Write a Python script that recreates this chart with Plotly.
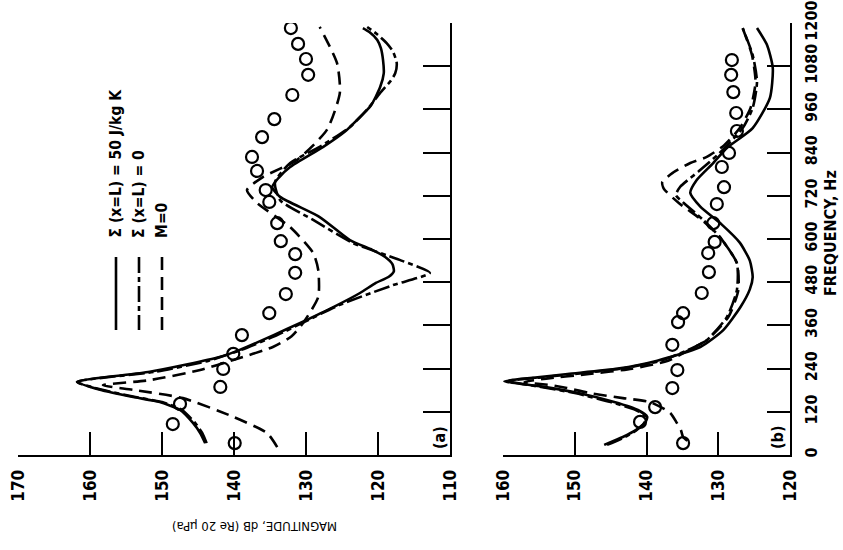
import plotly.graph_objects as go

W, H = 843, 550

# ---------------- data ----------------
# Panel (a)
a_meas_freq = [33, 86, 142, 189, 239, 281, 333, 394, 447, 506, 558, 594, 644, 703, 736, 789, 828, 883, 933, 1000, 1056, 1100, 1142, 1186]
a_meas_mag = [139.9, 148.5, 147.5, 141.9, 141.5, 140.1, 138.9, 135.1, 132.8, 131.5, 131.5, 133.5, 134.0, 135.1, 135.6, 136.8, 137.5, 136.1, 134.4, 131.9, 129.7, 130.0, 131.1, 132.1]

a_s50_freq = [33, 61, 89, 125, 147, 161, 181, 203, 231, 272, 292, 333, 367, 411, 450, 478, 495, 510, 530, 550, 570, 597, 661, 717, 744, 770, 800, 856, 900, 931, 970, 1022, 1060, 1097, 1130, 1153, 1175, 1186]
a_s50_mag = [144.0, 144.7, 145.7, 147.5, 150.3, 154.0, 158.6, 161.8, 151.7, 142.0, 139.2, 134.5, 130.8, 126.2, 122.5, 120.3, 118.5, 117.8, 118.0, 119.0, 120.8, 123.9, 128.1, 133.6, 134.7, 133.8, 132.2, 127.6, 124.5, 122.9, 121.0, 119.7, 119.2, 119.3, 119.6, 120.1, 121.2, 122.1]

a_s0_freq = [33, 61, 89, 125, 147, 161, 181, 203, 231, 262, 292, 333, 367, 417, 472, 506, 542, 589, 653, 708, 758, 811, 856, 911, 960, 1006, 1040, 1061, 1089, 1120, 1144, 1170, 1189]
a_s0_mag = [143.8, 144.4, 145.4, 147.2, 150.0, 153.7, 158.3, 161.8, 151.0, 143.5, 139.0, 134.0, 130.5, 125.3, 117.9, 112.8, 117.0, 123.5, 129.0, 133.6, 134.3, 132.2, 128.1, 123.9, 121.5, 119.7, 118.2, 117.6, 117.4, 117.9, 118.8, 120.2, 121.5]

a_m0_freq = [22, 61, 106, 158, 181, 194, 208, 236, 264, 300, 330, 367, 439, 514, 561, 633, 700, 736, 772, 819, 903, 1006, 1089, 1189]
a_m0_mag = [134.0, 135.4, 140.1, 147.1, 154.0, 158.2, 151.7, 144.7, 140.1, 134.6, 132.0, 130.4, 128.3, 128.3, 129.0, 132.2, 136.8, 138.2, 136.0, 131.3, 127.1, 125.3, 125.7, 128.1]

# Panel (b)
b_meas_freq = [33, 92, 133, 186, 236, 306, 369, 394, 450, 508, 561, 592, 644, 697, 744, 800, 839, 900, 950, 1008, 1056, 1097]
b_meas_mag = [134.9, 140.9, 138.8, 136.4, 135.7, 136.4, 135.6, 134.9, 132.3, 131.3, 131.4, 130.5, 130.7, 130.2, 129.2, 129.5, 128.5, 127.4, 127.5, 127.9, 128.2, 128.1]

b_s50_freq = [28, 50, 69, 90, 106, 125, 147, 172, 190, 205, 215, 225, 240, 262, 300, 347, 411, 460, 494, 540, 590, 640, 690, 728, 764, 811, 853, 908, 992, 1075, 1139, 1186]
b_s50_mag = [145.9, 143.3, 141.5, 140.2, 139.9, 141.2, 144.5, 149.5, 154.5, 159.8, 155.5, 151.0, 144.0, 138.5, 132.5, 129.3, 126.9, 125.6, 125.2, 125.6, 127.0, 129.5, 132.5, 133.9, 133.0, 130.7, 128.8, 125.2, 122.8, 122.4, 123.2, 124.6]

b_s0_freq = [28, 50, 69, 90, 106, 125, 147, 172, 190, 205, 215, 225, 240, 262, 300, 319, 383, 458, 533, 606, 653, 700, 722, 745, 790, 839, 908, 964, 1036, 1111, 1186]
b_s0_mag = [145.5, 143.0, 141.4, 140.3, 140.1, 141.5, 145.0, 150.0, 155.0, 159.3, 155.0, 150.0, 143.5, 138.0, 133.3, 131.6, 128.8, 127.4, 127.4, 129.8, 132.1, 134.8, 135.9, 135.3, 132.6, 129.8, 126.6, 125.2, 124.6, 125.2, 126.6]

b_m0_freq = [40, 50, 69, 90, 117, 147, 158, 172, 186, 194, 203, 212, 225, 240, 262, 300, 319, 383, 458, 533, 606, 653, 700, 740, 758, 783, 811, 828, 860, 908, 964, 1036, 1111, 1186]
b_m0_mag = [134.3, 134.9, 135.2, 135.8, 136.7, 139.5, 143.3, 147.9, 151.1, 153.4, 157.0, 154.0, 148.0, 142.0, 137.0, 133.3, 131.6, 128.6, 127.2, 127.4, 129.8, 132.3, 135.5, 137.6, 137.8, 136.4, 133.9, 131.6, 129.2, 127.0, 125.5, 124.8, 125.3, 126.6]

a_mag_ticks = [170, 160, 150, 140, 130, 120, 110]
b_mag_ticks = [160, 150, 140, 130, 120]
freq_ticks = [0, 120, 240, 360, 480, 600, 720, 840, 960, 1080, 1200]
freq_ticktext = ["0", "120", "240", "360", "480", "600", "720", "840", "960", "1080", "1200"]

legend_labels = ["\u03a3 (x=L) = 50 J/kg K", "\u03a3 (x=L) = 0", "M=0"]
panel_labels = ["(a)", "(b)"]
x_title = "FREQUENCY, Hz"
y_title = "MAGNITUDE, dB (Re 20 \u00b5Pa)"

# ---------------- styles ----------------
FONT = "Liberation Sans Narrow, DejaVu Sans Condensed, Arial Narrow, sans-serif"
LW = 2.6
DASH_S0 = "16px,4px,5px,4px"
DASH_M0 = "13px,7px"

def px_x(p):
    return p / W

def px_y(p):
    return 1 - p / H

ydom = [px_y(455), px_y(23)]

fig = go.Figure()

def add_panel(xa, ya, mf, mm, s50f, s50m, s0f, s0m, m0f, m0m):
    kw = dict(xaxis=xa, yaxis=ya, mode="lines", showlegend=False, hoverinfo="skip")
    fig.add_trace(go.Scatter(x=s50m, y=s50f, line=dict(color="black", width=LW, shape="spline", smoothing=0.6), **kw))
    fig.add_trace(go.Scatter(x=s0m, y=s0f, line=dict(color="black", width=LW, dash=DASH_S0, shape="spline", smoothing=0.6), **kw))
    fig.add_trace(go.Scatter(x=m0m, y=m0f, line=dict(color="black", width=LW, dash=DASH_M0, shape="spline", smoothing=0.6), **kw))
    fig.add_trace(go.Scatter(x=mm, y=mf, xaxis=xa, yaxis=ya, mode="markers", showlegend=False,
                             marker=dict(symbol="circle-open", size=12, color="black", line=dict(width=2.2, color="black"))))

add_panel("x", "y", a_meas_freq, a_meas_mag, a_s50_freq, a_s50_mag, a_s0_freq, a_s0_mag, a_m0_freq, a_m0_mag)
add_panel("x2", "y2", b_meas_freq, b_meas_mag, b_s50_freq, b_s50_mag, b_s0_freq, b_s0_mag, b_m0_freq, b_m0_mag)

tickfont = dict(family=FONT, size=17, color="black", weight="bold")
common_x = dict(showline=True, linecolor="black", linewidth=2, ticks="inside", ticklen=23, tickwidth=2,
                tickcolor="black", tickangle=-90, tickfont=tickfont, showgrid=False, zeroline=False,
                automargin=False, ticklabelstandoff=6)
common_y = dict(showline=True, linecolor="black", linewidth=2, ticks="inside", tickwidth=2,
                tickcolor="black", showgrid=False, zeroline=False, side="right", automargin=False,
                range=[0, 1200], domain=ydom, tickvals=freq_ticks, ticktext=freq_ticktext)

fig.update_layout(
    width=W, height=H, margin=dict(l=0, r=0, t=0, b=0),
    paper_bgcolor="white", plot_bgcolor="white",
    xaxis=dict(domain=[px_x(18), px_x(450)], range=[170, 110], anchor="y", tickvals=a_mag_ticks, **common_x),
    yaxis=dict(anchor="x", ticklen=27, showticklabels=False, **common_y),
    xaxis2=dict(domain=[px_x(503), px_x(790)], range=[160, 120], anchor="y2", tickvals=b_mag_ticks, **common_x),
    yaxis2=dict(anchor="x2", ticklen=23, showticklabels=True, tickangle=-90,
                tickfont=dict(family=FONT, size=16, color="black", weight="bold"), ticklabelstandoff=6, **common_y),
)

ann = []
# legend text and sample lines
leg_x = [116, 139, 162]
dashes = ["solid", DASH_S0, DASH_M0]
for lx, lab, d in zip(leg_x, legend_labels, dashes):
    ann.append(dict(x=px_x(lx), y=px_y(240), xref="paper", yref="paper", text=lab, showarrow=False,
                    textangle=-90, xanchor="center", yanchor="bottom",
                    font=dict(family=FONT, size=15.5, color="black", weight="bold")))
    fig.add_shape(type="line", xref="paper", yref="paper", x0=px_x(lx), x1=px_x(lx), y0=px_y(257), y1=px_y(330),
                  line=dict(color="black", width=LW, dash=d))

for lab, cx in zip(panel_labels, [439, 777]):
    ann.append(dict(x=px_x(cx), y=px_y(438), xref="paper", yref="paper", text=lab, showarrow=False,
                    textangle=-90, xanchor="center", yanchor="middle",
                    font=dict(family=FONT, size=16, color="black", weight="bold")))

ann.append(dict(x=px_x(831), y=px_y(233), xref="paper", yref="paper", text=x_title, showarrow=False,
                textangle=-90, xanchor="center", yanchor="middle",
                font=dict(family=FONT, size=16, color="black", weight="bold")))
ann.append(dict(x=px_x(255), y=px_y(527), xref="paper", yref="paper", text=y_title, showarrow=False,
                textangle=180, xanchor="center", yanchor="middle",
                font=dict(family=FONT, size=13, color="black")))
fig.update_layout(annotations=ann)

fig.write_html("out.html")
